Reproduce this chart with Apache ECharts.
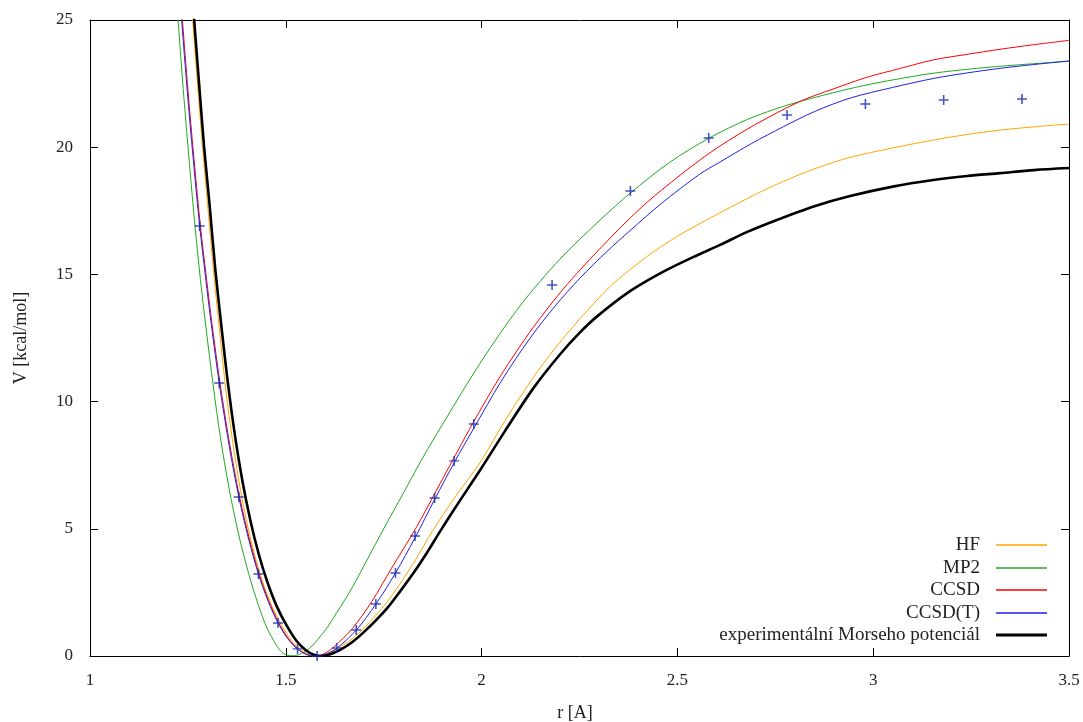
<!DOCTYPE html>
<html>
<head>
<meta charset="utf-8">
<script src="https://cdn.jsdelivr.net/npm/echarts@6/dist/echarts.min.js"></script>
<style>
html,body{margin:0;padding:0;background:#fff;}
#chart{width:1083px;height:722px;}
</style>
</head>
<body>
<div id="chart"></div>
<script>
// ---- data (r in Å, V in kcal/mol) ----
const xTicks = [1, 1.5, 2, 2.5, 3, 3.5];
const yTicks = [0, 5, 10, 15, 20, 25];

const seriesNames = ['HF', 'MP2', 'CCSD', 'CCSD(T)', 'experimentální Morseho potenciál'];

const hfR = [1.25,1.262,1.275,1.288,1.30,1.315,1.33,1.343,1.36,1.38,1.40,1.42,1.44,1.465,1.49,1.515,1.54,1.56,1.58,1.60,1.63,1.67,1.70,1.73,1.76,1.79,1.83,1.876,1.93,1.996,2.05,2.11,2.18,2.251,2.33,2.422,2.5,2.6,2.7,2.77,2.85,2.941,3.05,3.153,3.24,3.324,3.41,3.5];
const hfV = [27.4,25,22.4,19.9,17.8,15.2,12.9,11.0,8.9,6.9,5.3,4.0,2.95,1.95,1.2,0.6,0.22,0.05,0,0.05,0.28,0.68,1.1,1.6,2.15,2.8,3.75,4.95,6.2,7.6,9.0,10.45,11.95,13.25,14.55,15.7,16.5,17.35,18.15,18.65,19.15,19.6,19.97,20.28,20.5,20.67,20.8,20.91];

const mp2R = [1.21,1.224,1.238,1.252,1.267,1.282,1.297,1.314,1.333,1.355,1.38,1.405,1.43,1.452,1.475,1.49,1.505,1.52,1.54,1.562,1.6,1.63,1.67,1.71,1.75,1.8,1.85,1.9,2.0,2.1,2.2,2.3,2.38,2.48,2.58,2.68,2.78,2.9,3.0,3.15,3.3,3.5];
const mp2V = [28.3,25.2,22.3,19.7,17.1,14.8,12.8,10.7,8.6,6.6,4.75,3.25,2.0,1.1,0.45,0.15,0.02,0.01,0.1,0.32,1.0,1.7,2.7,3.85,5.0,6.4,7.8,9.1,11.6,13.8,15.6,17.1,18.2,19.4,20.35,21.1,21.65,22.15,22.5,22.9,23.15,23.38];

const ccsdR = [1.224,1.238,1.252,1.267,1.282,1.297,1.312,1.332,1.357,1.382,1.407,1.432,1.457,1.482,1.507,1.532,1.552,1.57,1.595,1.62,1.67,1.72,1.77,1.835,1.9,1.978,2.05,2.131,2.218,2.336,2.42,2.507,2.558,2.609,2.7,2.813,2.9,2.984,3.07,3.153,3.24,3.324,3.41,3.5];
const ccsdV = [27.4,24.6,21.9,19.3,16.9,14.9,13.0,10.73,8.3,6.25,4.6,3.22,2.15,1.30,0.68,0.27,0.06,0,0.07,0.32,1.08,2.15,3.45,5.1,6.95,9.16,11.05,12.9,14.6,16.55,17.8,18.9,19.5,20.05,20.9,21.8,22.3,22.75,23.1,23.43,23.65,23.85,24.03,24.2];

const ccsdtR = [1.222,1.236,1.25,1.265,1.28,1.295,1.31,1.33,1.355,1.38,1.405,1.43,1.455,1.48,1.505,1.53,1.555,1.575,1.6,1.63,1.68,1.73,1.78,1.83,1.88,1.93,1.98,2.05,2.124,2.19,2.251,2.32,2.379,2.46,2.558,2.609,2.69,2.77,2.85,2.941,3.05,3.153,3.24,3.324,3.41,3.5];
const ccsdtV = [27.4,24.6,21.9,19.3,16.9,14.9,13.0,10.73,8.3,6.25,4.6,3.22,2.15,1.30,0.68,0.27,0.05,0,0.06,0.3,1.02,2.04,3.26,4.65,6.15,7.6,8.95,10.8,12.5,13.8,14.85,15.9,16.72,17.8,18.95,19.42,20.15,20.8,21.4,21.93,22.35,22.7,22.92,23.1,23.25,23.39];

const expR = [1.25,1.266,1.279,1.292,1.305,1.32,1.336,1.35,1.368,1.389,1.41,1.431,1.452,1.477,1.502,1.527,1.552,1.572,1.59,1.61,1.64,1.67,1.70,1.73,1.76,1.79,1.83,1.86,1.894,1.94,1.996,2.06,2.131,2.2,2.25,2.295,2.38,2.463,2.54,2.609,2.68,2.754,2.85,2.941,3.05,3.153,3.24,3.324,3.41,3.5];
const expV = [28.0,25,22.4,19.9,17.8,15.2,12.9,11.0,8.9,6.9,5.3,4.0,2.95,1.95,1.2,0.6,0.22,0.05,0,0.05,0.25,0.55,0.95,1.4,1.9,2.5,3.35,4.05,4.9,6.0,7.3,8.85,10.5,11.85,12.7,13.35,14.35,15.1,15.68,16.16,16.68,17.14,17.68,18.08,18.45,18.71,18.87,18.98,19.1,19.18];

// CCSD(T) computed points (+ markers)
const ptR = [1.28,1.33,1.38,1.43,1.48,1.53,1.58,1.63,1.68,1.73,1.78,1.83,1.88,1.93,1.98,2.18,2.38,2.58,2.78,2.98,3.18,3.38];
const ptV = [16.9,10.73,6.25,3.22,1.30,0.28,0.0,0.31,1.02,2.04,3.26,4.72,6.21,7.67,9.12,14.58,18.28,20.36,21.27,21.70,21.86,21.89];

// ---- build ----
const zip = (a, b) => a.map((v, i) => [v, b[i]]);
const FONT = '"Liberation Serif", "DejaVu Serif", serif';
const TXT = '#222';
const colors = ['#ffa500', '#20a820', '#ff0000', '#2020e0', '#000000'];
const widths = [1, 1, 1, 1, 2.6];
const dataSets = [zip(hfR, hfV), zip(mp2R, mp2V), zip(ccsdR, ccsdV), zip(ccsdtR, ccsdtV), zip(expR, expV)];

const series = dataSets.map((d, i) => ({
  name: seriesNames[i],
  type: 'line',
  data: d,
  showSymbol: false,
  symbol: 'none',
  smooth: 0.3,
  clip: true,
  lineStyle: { color: colors[i], width: widths[i] },
  itemStyle: { color: colors[i] },
  z: i === 3 ? 6 : (i === 4 ? 7 : 3 + i)
}));
series.push({
  name: 'CCSD(T) body',
  type: 'scatter',
  data: zip(ptR, ptV),
  symbol: 'path://M0,4 L9,4 L9,5.4 L0,5.4 Z M3.8,0 L5.2,0 L5.2,9.4 L3.8,9.4 Z',
  symbolSize: [10, 10],
  itemStyle: { color: '#1626b0' },
  clip: false,
  z: 10
});

const legendCenters = [545, 568, 590, 613, 635];
const legends = seriesNames.map((n, i) => ({
  data: [n],
  orient: 'vertical',
  right: 36,
  top: legendCenters[i] - 10,
  padding: 0,
  align: 'right',
  icon: 'rect',
  itemWidth: 51,
  itemHeight: i === 4 ? 3 : 1.5,
  selectedMode: false,
  textStyle: { fontFamily: FONT, fontSize: 19, color: TXT, lineHeight: 20, padding: [0, 11, 0, 0] }
}));

const axisCommon = {
  type: 'value',
  axisLine: { show: true, onZero: false, lineStyle: { color: '#000', width: 1 } },
  axisTick: { show: true, inside: true, length: 8, lineStyle: { color: '#000', width: 1 } },
  splitLine: { show: false },
  minorTick: { show: false }
};

const option = {
  animation: false,
  backgroundColor: '#fff',
  grid: { left: 90, right: 14, top: 20, bottom: 66, containLabel: false, outerBoundsMode: 'none' },
  legend: legends,
  xAxis: [
    Object.assign({}, axisCommon, {
      min: xTicks[0], max: xTicks[xTicks.length - 1], interval: 0.5,
      position: 'bottom',
      name: 'r [A]', nameLocation: 'middle', nameGap: 48,
      nameTextStyle: { fontFamily: FONT, fontSize: 18, color: TXT, padding: [0, 9, 0, 0] },
      axisLabel: { fontFamily: FONT, fontSize: 17, color: TXT, margin: 16,
        formatter: v => String(v) }
    }),
    Object.assign({}, axisCommon, {
      min: xTicks[0], max: xTicks[xTicks.length - 1], interval: 0.5,
      position: 'top', axisLabel: { show: false }
    })
  ],
  yAxis: [
    Object.assign({}, axisCommon, {
      min: yTicks[0], max: yTicks[yTicks.length - 1], interval: 5,
      position: 'left',
      name: 'V [kcal/mol]', nameLocation: 'middle', nameGap: 60, nameRotate: 90,
      nameTextStyle: { fontFamily: FONT, fontSize: 18, color: TXT },
      axisLabel: { fontFamily: FONT, fontSize: 17, color: TXT, margin: 17 }
    }),
    Object.assign({}, axisCommon, {
      min: yTicks[0], max: yTicks[yTicks.length - 1], interval: 5,
      position: 'right', axisLabel: { show: false }
    })
  ],
  series: series
};

const chart = echarts.init(document.getElementById('chart'), null, { renderer: 'canvas' });
chart.setOption(option);
</script>
</body>
</html>
